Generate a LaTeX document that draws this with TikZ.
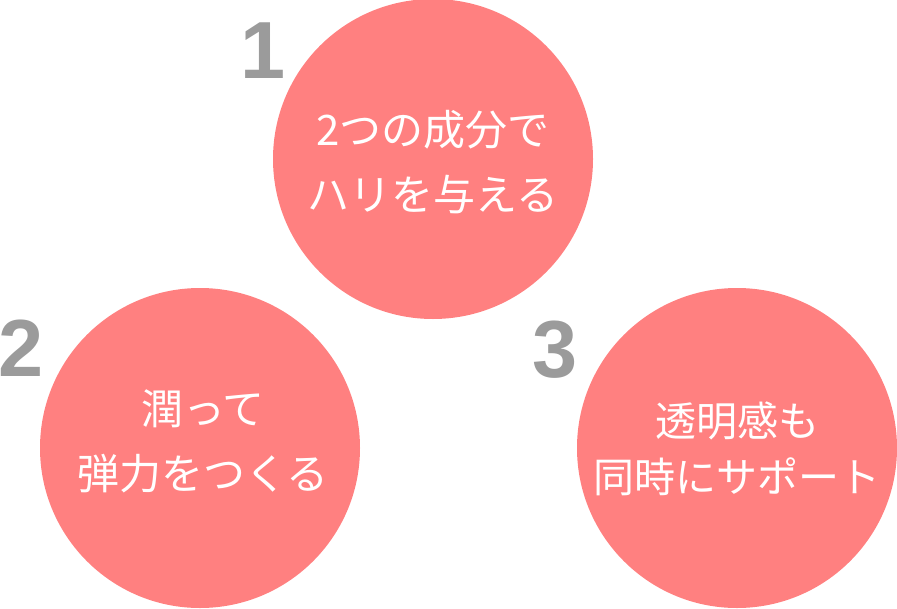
\documentclass[tikz,border=0pt]{standalone}
\usepackage{fontspec}
\newfontfamily\jpfont{Noto Sans CJK JP}
\newfontfamily\numfont{Liberation Sans}
\definecolor{petal}{HTML}{FF8080}
\definecolor{numgrey}{HTML}{9B9B9B}
\begin{document}
\begin{tikzpicture}[x=1pt,y=-1pt,
  petalcircle/.style={circle,fill=petal,draw=none,minimum size=320pt,inner sep=0pt},
  numlabel/.style={text=numgrey,font=\numfont\bfseries\fontsize{81}{81}\selectfont,inner sep=0pt,anchor=base},
  circtext/.style={text=white,align=center,inner sep=0pt,font=\jpfont\fontsize{42}{65}\selectfont}]
\useasboundingbox (0,0) rectangle (897,608);
\node[petalcircle] (c1) at (433,159) {};
\node[petalcircle] (c2) at (200,448) {};
\node[petalcircle] (c3) at (737,448) {};
\node[numlabel] (n1) at (263,78) {1};
\node[numlabel] (n2) at (21,376) {2};
\node[numlabel] (n3) at (555,377) {3};
\node[circtext] (t1) at (433,162) {2つの成分で\\ハリを与える};
\node[circtext] (t2) at (203,441) {潤って\\弾力をつくる};
\node[circtext,font=\jpfont\fontsize{41}{56}\selectfont] (t3) at (737,449) {透明感も\\同時にサポート};
\end{tikzpicture}
\end{document}
